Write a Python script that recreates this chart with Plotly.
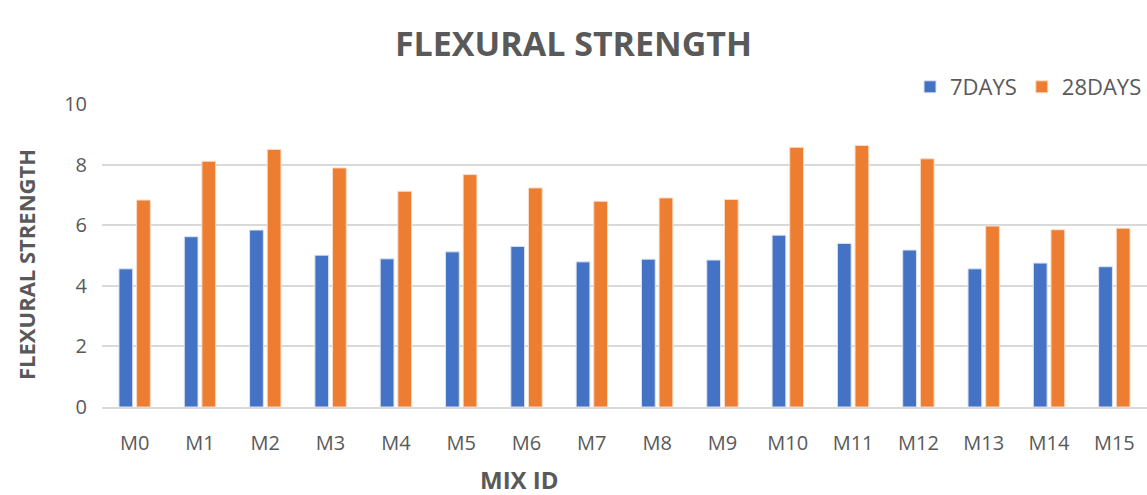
import plotly.graph_objects as go

# Mix identifiers and flexural strength results (MPa)
mix_ids = ["M0", "M1", "M2", "M3", "M4", "M5", "M6", "M7",
           "M8", "M9", "M10", "M11", "M12", "M13", "M14", "M15"]
strength_7d = [4.56, 5.62, 5.84, 5.01, 4.89, 5.12, 5.30, 4.79,
               4.88, 4.85, 5.67, 5.40, 5.18, 4.56, 4.75, 4.63]
strength_28d = [6.83, 8.11, 8.50, 7.89, 7.12, 7.67, 7.23, 6.79,
                6.90, 6.85, 8.57, 8.63, 8.19, 5.97, 5.85, 5.90]
y_ticks = [0, 2, 4, 6, 8, 10]

TEXT = "#595959"
FONT = "Open Sans"
W, H = 1147, 495
L, R, T, B = 102, 0, 104, 88
PW, PH = W - L - R, H - T - B

fig = go.Figure()
fig.add_trace(go.Bar(name="7DAYS", x=mix_ids, y=strength_7d,
                     marker=dict(color="#4472C4", line=dict(color="#dbe3f3", width=1))))
fig.add_trace(go.Bar(name="28DAYS", x=mix_ids, y=strength_28d,
                     marker=dict(color="#ED7D31", line=dict(color="#fbdcc8", width=1))))

fig.update_layout(
    width=W, height=H,
    margin=dict(l=L, r=R, t=T, b=B),
    paper_bgcolor="white", plot_bgcolor="white",
    barmode="group", bargap=0.46, bargroupgap=0.22,
    font=dict(family=FONT, color=TEXT, size=20),
    title=dict(text="<b>FLEXURAL STRENGTH</b>", x=0.5, xanchor="center",
               y=0.91, yanchor="middle",
               font=dict(family=FONT, size=34, color=TEXT)),
    legend=dict(orientation="h", x=1.0, xanchor="right", y=1 + 17 / PH, yanchor="middle",
                font=dict(family=FONT, size=22, color=TEXT),
                itemwidth=30, bgcolor="rgba(0,0,0,0)"),
    showlegend=True,
)

fig.update_yaxes(range=[0, 10], tickvals=y_ticks, showgrid=True,
                 gridcolor="#d9d9d9", gridwidth=1.5, zeroline=False,
                 showline=False, ticks="", ticklabelstandoff=14,
                 tickfont=dict(family=FONT, size=20, color=TEXT))
fig.update_xaxes(showline=True, linecolor="#d9d9d9", linewidth=1.5,
                 ticks="", ticklabelstandoff=17,
                 tickfont=dict(family=FONT, size=20, color=TEXT))

# Axis titles placed as annotations
fig.add_annotation(text="<b>FLEXURAL STRENGTH</b>", xref="paper", yref="paper",
                   x=(26 - L) / PW, y=(H - B - 265) / PH, textangle=-90,
                   xanchor="center", yanchor="middle", showarrow=False,
                   font=dict(family=FONT, size=22, color=TEXT))
fig.add_annotation(text="<b>MIX ID</b>", xref="paper", yref="paper",
                   x=(519 - L) / PW, y=(H - B - 479) / PH,
                   xanchor="center", yanchor="middle", showarrow=False,
                   font=dict(family=FONT, size=24, color=TEXT))

fig.write_html("out.html")
